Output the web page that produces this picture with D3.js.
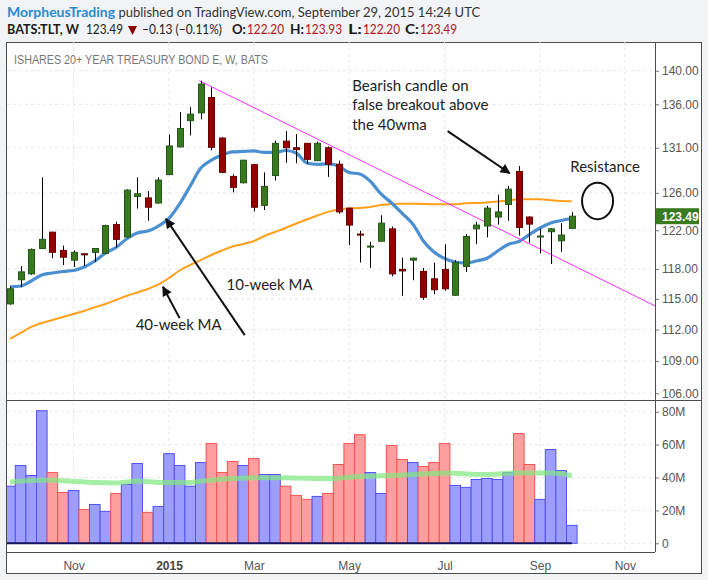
<!DOCTYPE html>
<html>
<head>
<meta charset="utf-8">
<script src="https://cdn.jsdelivr.net/npm/d3@7"></script>
<style>
body { margin: 0; background: #f1f3f6; }
svg { display: block; }
</style>
</head>
<body>
<div id="chart"></div>
<script>
// weekly bars, TLT
var weeks = ["2014-09-22","2014-09-29","2014-10-06","2014-10-13","2014-10-20","2014-10-27","2014-11-03","2014-11-10","2014-11-17","2014-11-24",
  "2014-12-01","2014-12-08","2014-12-15","2014-12-22","2014-12-29","2015-01-05","2015-01-12","2015-01-19","2015-01-26","2015-02-02",
  "2015-02-09","2015-02-16","2015-02-23","2015-03-02","2015-03-09","2015-03-16","2015-03-23","2015-03-30","2015-04-06","2015-04-13",
  "2015-04-20","2015-04-27","2015-05-04","2015-05-11","2015-05-18","2015-05-25","2015-06-01","2015-06-08","2015-06-15","2015-06-22",
  "2015-06-29","2015-07-06","2015-07-13","2015-07-20","2015-07-27","2015-08-03","2015-08-10","2015-08-17","2015-08-24","2015-08-31",
  "2015-09-07","2015-09-14","2015-09-21","2015-09-28"];
var opens = [114.5,116.9,117.5,120.1,121.8,119.9,118.9,119.55,119.7,119.6,
  122.6,121.3,125.6,125.45,124.9,128.0,131.1,134.1,135.0,136.8,
  132.1,127.8,127.1,129.1,124.65,127.9,131.75,131.0,131.5,129.55,
  131.0,129.15,124.35,121.6,120.25,120.85,122.15,117.95,118.9,117.75,
  117.0,117.95,115.35,118.25,122.15,122.45,123.4,124.75,128.35,123.4,
  121.3,121.85,120.9,122.2];
var highs = [116.2,118.3,120.1,127.7,121.85,120.4,119.9,119.6,120.15,122.6,
  122.9,126.4,127.7,126.2,127.7,132.5,135.1,135.7,138.8,138.0,
  132.2,128.05,129.65,129.2,128.25,131.8,132.9,132.55,131.55,131.7,
  131.15,129.55,124.4,121.95,120.8,123.6,122.4,119.15,119.15,118.1,
  118.65,120.55,118.9,121.6,122.9,124.6,125.8,126.75,128.95,123.5,
  122.15,122.25,122.75,123.93];
var lows = [114.4,116.15,117.4,120.1,119.1,118.4,118.2,118.3,118.7,119.55,
  120.2,121.25,124.3,123.0,124.85,128.0,131.05,132.4,134.25,130.7,
  128.15,126.05,127.05,124.0,124.15,127.35,129.3,129.25,129.2,129.5,
  127.75,123.75,120.45,118.65,118.1,120.8,117.25,115.3,116.85,114.9,
  115.45,115.8,115.3,117.7,120.55,121.25,122.6,123.0,121.45,120.7,
  119.6,118.5,119.75,122.2];
var closes = [116.0,117.7,120.0,121.05,119.7,119.2,119.7,119.45,120.1,122.5,
  121.05,126.3,125.9,124.45,127.4,131.2,133.2,134.85,138.4,131.05,
  128.25,126.6,129.6,124.45,126.7,131.5,131.0,130.8,129.7,131.5,
  129.15,123.95,122.55,121.5,120.35,122.75,117.5,117.8,119.1,115.15,
  115.9,116.0,118.65,121.35,122.55,124.35,123.95,126.4,122.3,122.65,
  121.4,122.15,121.5,123.49];
// volume in millions
var volumes = [34.7,47.3,41.2,80.6,43.0,30.9,32.1,20.6,23.6,19.4,
  30.3,35.8,48.5,18.8,22.4,54.5,47.3,34.7,49.1,60.6,
  43.0,49.7,47.3,51.5,41.8,41.8,34.7,29.1,26.7,28.5,
  30.3,47.9,60.6,66.0,43.0,30.3,59.4,50.9,49.1,46.7,
  49.1,60.6,35.2,34.0,38.8,39.4,38.8,43.0,66.7,47.9,
  26.7,57.0,44.2,10.9];
// moving averages as shown on the chart
var ma10 = [116.2,116.28,116.78,117.39,117.59,117.74,117.84,118.19,118.81,119.63,
  120.2,121.09,121.71,121.92,122.45,123.25,124.8,126.75,128.73,129.62,
  130.19,130.53,130.58,130.64,130.47,130.47,130.69,130.41,129.29,129.14,
  129.18,128.95,128.23,128.07,127.25,125.88,124.91,123.78,122.67,120.88,
  119.73,119.06,118.71,118.6,118.81,119.09,119.84,120.52,120.82,121.55,
  122.24,122.77,123.04,123.25];
var ma40 = [111.09,111.66,112.24,112.63,112.92,113.21,113.51,113.8,114.15,114.48,
  114.88,115.28,115.63,115.98,116.43,117.08,117.84,118.4,118.91,119.43,
  119.89,120.3,120.56,120.88,121.4,121.82,122.24,122.72,123.14,123.57,
  123.95,124.21,124.32,124.37,124.48,124.69,124.8,124.83,124.83,124.8,
  124.77,124.77,124.77,124.88,124.91,124.96,125.07,125.18,125.3,125.3,
  125.3,125.2,125.12,125.09];
var volMa = [37.3,37.8,38.2,38.4,38.3,38.0,37.6,37.3,37.0,36.8,
  36.7,37.3,37.8,37.5,37.0,37.0,37.0,37.0,37.8,38.4,
  39.0,39.4,39.6,39.8,39.8,39.8,39.8,39.7,39.6,39.4,
  39.4,39.6,40.2,40.6,40.8,41.0,41.2,41.5,41.8,42.1,
  42.4,42.8,42.6,42.2,41.9,41.8,42.2,42.6,42.8,42.8,
  42.8,42.8,42.5,40.8];

var priceTicks = [106, 109, 112, 115, 118, 122, 126, 131, 136, 140];
var volTicks = [0, 20, 40, 60, 80];
var monthTicks = ["2014-11-03","2015-01-05","2015-03-02","2015-05-04","2015-07-06","2015-09-07","2015-11-02"];
var monthLabels = ["Nov", "2015", "Mar", "May", "Jul", "Sep", "Nov"];
var lastPrice = 123.49;

// drawings made on the chart
var trendLine = [["2015-01-25", 138.8], ["2015-11-22", 114.3]];
var arrows = [
  [["2015-07-08", 132.9], ["2015-08-18", 128.15]],
  [["2015-02-24", 111.45], ["2015-01-03", 123.2]],
  [["2015-01-12", 113.1], ["2015-01-01", 116.2]]
];
var notes = [
  {date: "2015-05-06", price: 137.6, lines: ["Bearish candle on", "false breakout above", "the 40wma"]},
  {date: "2015-09-27", price: 128.33, lines: ["Resistance"]},
  {date: "2015-02-12", price: 115.88, lines: ["10-week MA"]},
  {date: "2014-12-14", price: 111.95, lines: ["40-week MA"]}
];
var circle = {date: "2015-10-15", price: 125.12};

var W = 708, H = 580,
    padL = 7, padR = 655, padT = 42, sep = 400, padB = 552;

var parse = d3.utcParse("%Y-%m-%d");

var data = weeks.map(function(w, i) {
  return {date: parse(w), o: opens[i], h: highs[i], l: lows[i], c: closes[i],
          v: volumes[i], m10: ma10[i], m40: ma40[i], vm: volMa[i]};
});

var x = d3.scaleUtc()
    .domain([parse("2014-09-22"), parse("2015-11-02")])
    .range([10, 624.8]);
var step = x(parse("2014-09-29")) - x(parse("2014-09-22"));

var y = d3.scaleLog().domain([106, 140]).range([393.3, 70.7]);
var yv = d3.scaleLinear().domain([0, 80]).range([543.3, 411.7]);

var svg = d3.select("#chart").append("svg")
    .attr("width", W)
    .attr("height", H)
    .style("font-family", "'Liberation Sans', Arial, sans-serif");

// header
var head = svg.append("text").attr("x", 7).attr("y", 17)
    .style("font-family", "Lato, sans-serif").style("font-size", "14px").attr("fill", "#333");
head.append("tspan").text("MorpheusTrading").attr("fill", "#2a8ad0").style("font-weight", "bold");
head.append("tspan").text(" published on TradingView.com, September 29, 2015 14:24 UTC").style("font-size", "13px");

var head2 = svg.append("g").style("font-family", "Lato, sans-serif").style("font-size", "13.5px");
var h2 = function(px, w, s, fill, bold) {
  return head2.append("text").attr("x", px).attr("y", 34).attr("fill", fill)
      .attr("textLength", w).attr("lengthAdjust", "spacingAndGlyphs")
      .style("font-weight", bold ? "bold" : "normal").text(s);
};
h2(7, 72, "BATS:TLT, W", "#1a1a1a", true);
h2(86, 37, "123.49", "#222");
head2.append("path")
    .attr("d", "M128,26L137,26L132.5,35z").attr("fill", "#8b0000");
h2(142, 80, "\u22120.13 (\u22120.11%)", "#222");
[["O:", "122.20", 232], ["H:", "123.93", 290], ["L:", "122.20", 348], ["C:", "123.49", 405]].forEach(function(p) {
  h2(p[2], 14, p[0], "#1a1a1a", true);
  h2(p[2] + 15, 37, p[1], "#b3151b");
});

// panel
svg.append("rect")
    .attr("x", 6.5).attr("y", 42.5).attr("width", 695).attr("height", 531)
    .attr("fill", "#fff").attr("stroke", "#4d4d4d");

var defs = svg.append("defs");
defs.append("clipPath").attr("id", "clipP").append("rect")
    .attr("x", padL).attr("y", padT).attr("width", padR - padL).attr("height", sep - padT);
defs.append("clipPath").attr("id", "clipV").append("rect")
    .attr("x", padL).attr("y", sep).attr("width", padR - padL).attr("height", padB - sep);
defs.append("marker").attr("id", "head")
    .attr("viewBox", "0 0 10 10").attr("refX", 9).attr("refY", 5)
    .attr("markerWidth", 12).attr("markerHeight", 10)
    .attr("markerUnits", "userSpaceOnUse").attr("orient", "auto")
  .append("path").attr("d", "M0,0L10,5L0,10z").attr("fill", "#111");

// grid
var grid = svg.append("g").attr("stroke", "#e6e6e6").attr("stroke-dasharray", "3,3");
grid.selectAll(".gx").data(monthTicks).enter().append("line")
    .attr("x1", function(d) { return x(parse(d)); })
    .attr("x2", function(d) { return x(parse(d)); })
    .attr("y1", padT).attr("y2", padB);
grid.selectAll(".gy").data(priceTicks).enter().append("line")
    .attr("x1", padL).attr("x2", padR)
    .attr("y1", function(d) { return y(d); }).attr("y2", function(d) { return y(d); });
grid.selectAll(".gv").data(volTicks).enter().append("line")
    .attr("x1", padL).attr("x2", padR)
    .attr("y1", function(d) { return yv(d); }).attr("y2", function(d) { return yv(d); });

// volume pane
var vol = svg.append("g").attr("clip-path", "url(#clipV)");
vol.selectAll("rect").data(data).enter().append("rect")
    .attr("x", function(d) { return x(d.date) - step / 2; })
    .attr("width", step)
    .attr("y", function(d) { return yv(d.v); })
    .attr("height", function(d) { return yv(0) - yv(d.v); })
    .attr("fill", function(d) { return d.c >= d.o ? "#9d9dfb" : "#ff9e9e"; })
    .attr("stroke", function(d) { return d.c >= d.o ? "#5252f0" : "#f25454"; })
    .attr("stroke-width", 1);
vol.append("line")
    .attr("x1", padL).attr("x2", x(data[data.length - 1].date))
    .attr("y1", yv(0)).attr("y2", yv(0))
    .attr("stroke", "#14145a").attr("stroke-width", 2);
vol.append("path").datum(data)
    .attr("fill", "none").attr("stroke", "#7fe87f").attr("stroke-opacity", 0.7)
    .attr("stroke-width", 5).attr("stroke-linejoin", "round")
    .attr("d", d3.line().curve(d3.curveMonotoneX)
      .x(function(d) { return x(d.date); }).y(function(d) { return yv(d.vm); }));

// price pane
var pr = svg.append("g").attr("clip-path", "url(#clipP)");
var lineFor = function(key) {
  return d3.line().curve(d3.curveMonotoneX)
    .x(function(d) { return x(d.date); })
    .y(function(d) { return y(d[key]); });
};
pr.append("path").datum(data)
    .attr("fill", "none").attr("stroke", "#ffa01c").attr("stroke-width", 2)
    .attr("d", lineFor("m40"));
pr.append("path").datum(data)
    .attr("fill", "none").attr("stroke", "#4a8fd2").attr("stroke-width", 3.2)
    .attr("d", lineFor("m10"));
pr.append("line")
    .attr("x1", x(parse(trendLine[0][0]))).attr("y1", y(trendLine[0][1]))
    .attr("x2", x(parse(trendLine[1][0]))).attr("y2", y(trendLine[1][1]))
    .attr("stroke", "#ff2cff").attr("stroke-width", 1);

var candle = pr.selectAll(".candle").data(data).enter().append("g");
candle.append("line")
    .attr("x1", function(d) { return Math.round(x(d.date)) + 0.5; })
    .attr("x2", function(d) { return Math.round(x(d.date)) + 0.5; })
    .attr("y1", function(d) { return y(d.h); })
    .attr("y2", function(d) { return y(d.l); })
    .attr("stroke", "#000").attr("stroke-width", 1);
candle.append("rect")
    .attr("x", function(d) { return Math.round(x(d.date)) - 2.5; })
    .attr("width", 6)
    .attr("y", function(d) { return y(Math.max(d.o, d.c)); })
    .attr("height", function(d) { return Math.max(1, Math.abs(y(d.o) - y(d.c))); })
    .attr("fill", function(d) { return d.c >= d.o ? "#38791f" : "#940000"; })
    .attr("stroke", function(d) { return d.c >= d.o ? "#25561a" : "#6a0000"; })
    .attr("stroke-width", 1);

// drawings
var draw = svg.append("g");
arrows.forEach(function(a) {
  draw.append("line")
      .attr("x1", x(parse(a[0][0]))).attr("y1", y(a[0][1]))
      .attr("x2", x(parse(a[1][0]))).attr("y2", y(a[1][1]))
      .attr("stroke", "#111").attr("stroke-width", 2)
      .attr("marker-end", "url(#head)");
});
draw.append("ellipse")
    .attr("cx", x(parse(circle.date))).attr("cy", y(circle.price))
    .attr("rx", 15.5).attr("ry", 18.3)
    .attr("fill", "none").attr("stroke", "#111").attr("stroke-width", 2);
notes.forEach(function(n) {
  var t = draw.append("text")
      .attr("x", x(parse(n.date))).attr("y", y(n.price))
      .style("font-family", "Lato, sans-serif").style("font-size", "15px").attr("fill", "#222");
  n.lines.forEach(function(s, i) {
    t.append("tspan").attr("x", x(parse(n.date))).attr("dy", i ? 19.5 : 0).text(s);
  });
});

svg.append("text").attr("x", 14).attr("y", 64)
    .style("font-size", "12.5px").attr("fill", "#777")
    .attr("textLength", 254).attr("lengthAdjust", "spacingAndGlyphs")
    .text("ISHARES 20+ YEAR TREASURY BOND E, W, BATS");

// axes
var ay = svg.append("g").attr("transform", "translate(" + padR + ",0)")
    .call(d3.axisRight(y).tickValues(priceTicks).tickFormat(d3.format(".2f")).tickSize(4).tickPadding(3));
var av = svg.append("g").attr("transform", "translate(" + padR + ",0)")
    .call(d3.axisRight(yv).tickValues(volTicks).tickFormat(function(d) { return d ? d + "M" : "0"; }).tickSize(4).tickPadding(3));
var ax = svg.append("g").attr("transform", "translate(0," + padB + ")")
    .call(d3.axisBottom(x).tickValues(monthTicks.map(parse))
      .tickFormat(function(d, i) { return monthLabels[i]; }).tickSize(0).tickPadding(9));
[ay, av, ax].forEach(function(g) {
  g.select(".domain").remove();
  g.selectAll("line").attr("stroke", "#777");
  g.selectAll("text").attr("fill", "#555").style("font-size", "12px")
    .style("font-family", "'Liberation Sans', Arial, sans-serif");
});
ax.selectAll("text").filter(function(d, i) { return monthLabels[i] === "2015"; })
    .attr("fill", "#444").style("font-weight", "bold");

// frame lines
svg.append("line").attr("x1", padR + 0.5).attr("x2", padR + 0.5).attr("y1", padT).attr("y2", padB)
    .attr("stroke", "#4d4d4d");
svg.append("line").attr("x1", padL).attr("x2", 701).attr("y1", sep + 0.5).attr("y2", sep + 0.5)
    .attr("stroke", "#4d4d4d");
svg.append("line").attr("x1", padL).attr("x2", padR).attr("y1", padB + 0.5).attr("y2", padB + 0.5)
    .attr("stroke", "#4d4d4d");

// last price tag
svg.append("rect").attr("x", padR + 1).attr("y", y(lastPrice) - 8).attr("width", 43).attr("height", 16)
    .attr("fill", "#3a7a1e");
svg.append("text").attr("x", padR + 7).attr("y", y(lastPrice) + 4.5)
    .attr("fill", "#fff").style("font-size", "12px").style("font-weight", "bold")
    .text(lastPrice.toFixed(2));
</script>
</body>
</html>
